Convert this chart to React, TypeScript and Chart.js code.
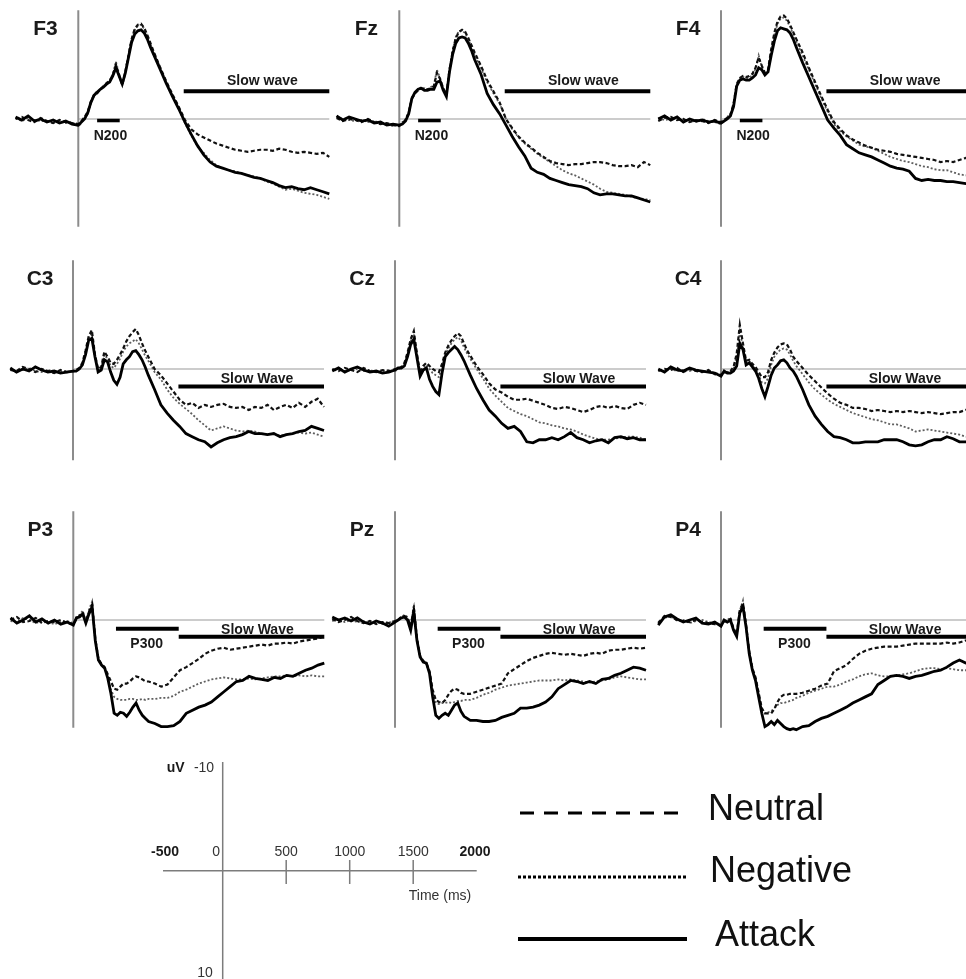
import React, { useEffect, useRef } from "react";
import { Chart, registerables } from "chart.js";
Chart.register(...registerables);

// ---------------- DATA ----------------
const TIME_MS = [
  -500, -450, -400, -350, -300, -250, -200, -150, -100, -50, 0,
  25, 50, 75, 100, 125, 150, 175, 200, 225, 250, 275, 300, 325, 350, 375, 400, 425, 450, 475, 500, 525, 550, 575, 600,
  650, 700, 750, 800, 850, 900, 950, 1000, 1050, 1100, 1150, 1200, 1250, 1300, 1350, 1400, 1450, 1500, 1550, 1600, 1650, 1700, 1750, 1800, 1850, 1900, 1950, 2000,
];

// amplitudes in µV (negative plotted upward)
const F3_NEUTRAL = [
  0.0, -0.2, 0.1, 0.3, -0.1, 0.2, 0.4, 0.1, 0.3, 0.4, 0.5,
  0.2, -0.2, -0.7, -1.7, -2.3, -2.5, -2.9, -3.2, -3.5, -3.7, -4.3, -5.3, -4.3, -3.3, -4.6, -6.2, -7.8, -8.8, -9.2, -9.3, -8.9, -8.2, -7.4, -6.6,
  -5.1, -3.7, -2.4, -1.2, 0.1, 1.0, 1.5, 1.8, 2.1, 2.4, 2.6, 2.8, 3.0, 3.1, 3.2, 3.1, 3.0, 3.0, 3.1, 2.9, 3.0, 3.2, 3.3, 3.2, 3.3, 3.4, 3.3, 3.7,
];
const F3_NEGATIVE = [
  -0.1, 0.2, -0.1, 0.1, 0.2, 0.2, 0.3, 0.2, 0.4, 0.3, 0.7,
  0.4, -0.1, -0.5, -1.5, -2.4, -2.7, -2.8, -3.2, -3.5, -3.8, -4.4, -5.6, -4.4, -3.5, -4.7, -6.3, -7.8, -8.7, -9.1, -9.2, -8.8, -8.1, -7.3, -6.5,
  -5.1, -3.6, -2.3, -1.0, 0.4, 1.6, 2.7, 3.3, 4.0, 4.5, 4.8, 5.0, 5.1, 5.3, 5.5, 5.6, 5.8, 6.1, 6.3, 6.6, 6.9, 6.8, 7.0, 7.2, 7.3, 7.4, 7.6, 7.8,
];
const F3_ATTACK = [
  -0.2, 0.1, -0.3, 0.2, 0.0, 0.3, 0.1, 0.4, 0.2, 0.5, 0.6,
  0.3, 0.0, -0.6, -1.6, -2.3, -2.6, -2.9, -3.1, -3.4, -3.6, -4.2, -5.0, -4.2, -3.4, -4.5, -6.0, -7.5, -8.3, -8.6, -8.7, -8.4, -7.8, -7.0, -6.3,
  -4.9, -3.5, -2.2, -1.0, 0.3, 1.5, 2.6, 3.5, 4.2, 4.6, 4.8, 5.0, 5.2, 5.3, 5.5, 5.7, 5.8, 6.0, 6.2, 6.5, 6.7, 6.6, 6.8, 6.9, 6.7, 6.9, 7.1, 7.3,
];

const FZ_NEUTRAL = [
  -0.1, 0.2, 0.0, 0.1, 0.3, 0.0, 0.3, 0.5, 0.4, 0.6, 0.7,
  0.4, 0.1, -0.6, -2.0, -2.5, -2.8, -3.0, -2.9, -2.9, -3.0, -3.2, -4.5, -3.9, -3.0, -2.4, -4.8, -6.6, -7.9, -8.5, -8.7, -8.5, -7.9, -7.2, -6.5,
  -5.2, -3.8, -2.7, -1.6, 0.0, 0.9, 1.7, 2.3, 2.8, 3.3, 3.7, 4.1, 4.3, 4.4, 4.5, 4.4, 4.4, 4.3, 4.2, 4.2, 4.3, 4.5, 4.6, 4.6, 4.5, 4.7, 4.2, 4.5,
];
const FZ_NEGATIVE = [
  -0.2, 0.0, 0.1, 0.2, 0.1, 0.3, 0.2, 0.4, 0.5, 0.7, 0.6,
  0.3, 0.0, -0.7, -2.1, -2.6, -2.9, -3.1, -3.0, -2.9, -3.1, -3.3, -4.8, -4.0, -2.9, -2.4, -4.9, -6.7, -8.0, -8.6, -8.6, -8.4, -7.8, -7.0, -6.3,
  -5.0, -3.6, -2.5, -1.5, 0.0, 1.0, 1.8, 2.4, 2.9, 3.4, 3.8, 4.2, 4.6, 5.0, 5.3, 5.5, 5.8, 6.1, 6.4, 6.8, 7.1, 7.2, 7.3, 7.4, 7.6, 7.7, 7.8, 7.9,
];
const FZ_ATTACK = [
  -0.3, 0.1, -0.2, 0.0, 0.2, 0.1, 0.4, 0.3, 0.6, 0.5, 0.6,
  0.5, 0.2, -0.5, -2.0, -2.6, -2.9, -3.0, -2.8, -2.8, -2.9, -2.9, -3.6, -3.7, -2.8, -2.2, -4.6, -6.3, -7.4, -7.9, -8.0, -7.9, -7.4, -6.7, -5.8,
  -4.4, -2.5, -1.4, -0.5, 0.6, 1.7, 2.7, 3.6, 4.8, 5.2, 5.4, 5.8, 6.0, 6.2, 6.4, 6.5, 6.6, 6.8, 7.2, 7.4, 7.3, 7.3, 7.4, 7.5, 7.5, 7.7, 7.9, 8.1,
];

const F4_NEUTRAL = [
  0.2, -0.1, -0.2, 0.1, 0.0, 0.3, 0.1, 0.2, 0.4, 0.1, 0.3,
  0.1, -0.1, -0.4, -1.5, -3.4, -4.0, -4.2, -4.1, -4.2, -4.4, -5.0, -6.0, -5.2, -4.5, -4.8, -6.8, -8.4, -9.5, -10.0, -10.1, -9.8, -9.2, -8.5, -7.8,
  -6.5, -5.0, -3.6, -2.2, -0.9, 0.3, 1.0, 1.6, 2.0, 2.3, 2.6, 2.8, 3.0, 3.1, 3.2, 3.4, 3.5, 3.6, 3.7, 3.8, 3.9, 4.0, 4.2, 4.1, 4.2, 4.0, 3.8, 4.0,
];
const F4_NEGATIVE = [
  -0.1, 0.1, 0.0, -0.2, 0.2, 0.1, 0.3, 0.0, 0.2, 0.3, 0.5,
  0.1, -0.2, -0.5, -1.4, -3.3, -3.9, -4.1, -4.0, -4.0, -4.3, -4.9, -6.2, -5.1, -4.4, -4.7, -6.6, -8.2, -9.3, -9.8, -9.9, -9.6, -9.0, -8.3, -7.6,
  -6.2, -4.8, -3.4, -2.0, -0.7, 0.5, 1.2, 1.7, 2.1, 2.5, 2.7, 2.8, 3.1, 3.4, 3.7, 3.9, 4.1, 4.2, 4.4, 4.6, 4.7, 4.9, 5.0, 5.0, 5.2, 5.4, 5.5, 5.4,
];
const F4_ATTACK = [
  0.0, -0.3, 0.1, -0.2, 0.3, 0.0, 0.2, 0.1, 0.3, 0.2, 0.4,
  0.2, 0.0, -0.3, -1.2, -3.2, -3.8, -3.9, -3.8, -3.8, -4.0, -4.3, -5.0, -4.8, -4.3, -4.6, -6.2, -7.6, -8.6, -8.9, -8.8, -8.7, -8.4, -7.8, -7.0,
  -5.5, -4.1, -2.7, -1.3, 0.1, 0.9, 1.6, 2.5, 2.9, 3.3, 3.5, 3.7, 4.0, 4.3, 4.6, 4.8, 4.9, 5.1, 5.8, 6.0, 5.9, 6.0, 6.0, 6.1, 6.1, 6.2, 6.3, 6.2,
];

const C3_NEUTRAL = [
  0.1, 0.2, -0.2, 0.0, 0.3, 0.0, 0.2, 0.4, 0.1, 0.3, 0.2,
  0.1, -0.1, -0.6, -1.8, -3.2, -3.8, -1.4, 0.0, -0.2, -1.7, -1.2, -0.6, -0.5, -0.9, -1.4, -2.0, -2.7, -3.2, -3.6, -3.9, -3.3, -2.5, -1.8, -1.2,
  0.0, 0.6, 1.4, 2.2, 3.0, 3.5, 3.3, 3.8, 3.5, 3.7, 3.5, 3.4, 3.7, 3.8, 3.7, 4.0, 3.7, 3.8, 3.5, 4.0, 3.7, 3.5, 3.8, 3.3, 3.7, 3.2, 2.9, 3.7,
];
const C3_NEGATIVE = [
  0.0, 0.2, 0.1, -0.1, 0.2, 0.3, 0.1, 0.2, 0.3, 0.2, 0.3,
  0.2, 0.0, -0.5, -1.6, -3.0, -3.5, -1.3, 0.1, 0.0, -1.4, -1.0, -0.3, -0.1, -0.5, -1.0, -1.7, -2.2, -2.5, -2.7, -2.9, -2.5, -1.9, -1.3, -0.8,
  0.3, 1.0, 2.0, 2.8, 3.4, 3.9, 4.4, 5.0, 5.5, 6.0, 5.8, 5.6, 5.8, 6.0, 6.1, 6.0, 6.1, 6.3, 6.4, 6.3, 6.5, 6.4, 6.3, 6.2, 6.3, 6.2, 6.4, 6.6,
];
const C3_ATTACK = [
  -0.1, 0.3, 0.0, 0.2, -0.2, 0.1, 0.3, 0.2, 0.4, 0.3, 0.2,
  0.2, 0.0, -0.4, -1.4, -2.8, -3.0, -1.2, 0.3, 0.1, -0.9, -0.7, 0.3, 1.1, 1.5, 0.8, -0.5, -0.9, -1.2, -1.7, -1.8, -1.4, -0.9, -0.2, 0.6,
  2.0, 3.5, 4.3, 5.0, 5.6, 6.3, 6.6, 6.9, 7.1, 7.6, 7.2, 6.9, 6.7, 6.6, 6.4, 6.1, 6.3, 6.3, 6.4, 6.3, 6.6, 6.4, 6.3, 6.1, 6.0, 5.6, 5.8, 6.0,
];

const CZ_NEUTRAL = [
  0.0, 0.2, -0.1, 0.1, 0.3, -0.1, 0.2, 0.3, 0.1, 0.2, 0.0,
  0.0, -0.2, -0.6, -1.6, -2.9, -3.7, -1.5, 0.4, -0.3, -0.6, -0.3, 0.0, 0.2, 0.3, -0.5, -1.6, -2.3, -2.8, -3.2, -3.5, -3.2, -2.5, -1.8, -1.3,
  -0.3, 0.5, 1.4, 2.0, 2.3, 2.7, 3.0, 3.0, 2.9, 3.1, 3.3, 3.5, 3.8, 3.9, 3.7, 3.8, 4.0, 4.2, 4.0, 3.7, 3.6, 3.8, 3.6, 3.8, 3.9, 3.5, 3.3, 3.5,
];
const CZ_NEGATIVE = [
  0.1, 0.0, 0.2, 0.1, 0.0, 0.2, 0.1, 0.3, 0.2, 0.1, 0.2,
  0.0, -0.1, -0.5, -1.5, -2.7, -3.4, -1.3, 0.5, -0.1, -0.4, 0.0, 0.4, 0.6, 0.8, -0.2, -1.4, -2.0, -2.5, -2.9, -3.1, -2.8, -2.1, -1.5, -1.0,
  0.0, 0.9, 1.9, 2.6, 3.2, 3.8, 4.1, 4.4, 4.6, 4.9, 5.2, 5.3, 5.5, 5.6, 5.8, 5.9, 6.1, 6.4, 6.6, 6.8, 6.9, 6.9, 6.8, 6.7, 6.6, 6.6, 6.7, 6.9,
];
const CZ_ATTACK = [
  0.2, -0.1, 0.3, 0.0, -0.2, 0.1, 0.3, 0.2, 0.4, 0.3, 0.1,
  -0.1, -0.1, -0.3, -1.2, -2.4, -2.9, -1.1, 0.7, 0.1, -0.1, 1.0, 1.7, 2.2, 2.5, 0.4, -1.2, -1.6, -1.9, -2.2, -1.9, -1.4, -0.8, -0.1, 0.6,
  1.9, 3.0, 4.0, 4.6, 5.3, 5.8, 5.6, 6.1, 7.1, 7.2, 6.9, 6.9, 6.7, 6.9, 6.6, 6.2, 6.7, 6.9, 7.2, 7.0, 6.9, 7.2, 6.7, 6.6, 6.8, 6.7, 6.9, 6.9,
];

const C4_NEUTRAL = [
  0.2, 0.0, 0.1, -0.1, 0.3, 0.0, 0.2, 0.3, 0.1, 0.5, 0.6,
  0.3, 0.3, 0.2, -0.2, -1.5, -4.3, -2.5, -0.8, -0.9, -0.5, -0.2, 0.3, 0.8, 0.8, 0.3, -0.9, -1.6, -2.1, -2.4, -2.5, -2.4, -1.9, -1.2, -0.8,
  -0.1, 0.6, 1.2, 1.8, 2.4, 2.9, 3.3, 3.5, 3.8, 3.8, 3.9, 4.1, 4.0, 4.1, 4.2, 4.1, 4.2, 4.1, 4.2, 4.3, 4.2, 4.3, 4.4, 4.3, 4.2, 4.2, 4.0, 4.1,
];
const C4_NEGATIVE = [
  0.1, 0.2, 0.0, 0.2, 0.1, 0.2, 0.0, 0.3, 0.2, 0.4, 0.5,
  0.3, 0.3, 0.3, 0.0, -1.2, -3.6, -2.2, -0.6, -0.8, -0.4, 0.0, 0.6, 1.3, 1.4, 0.9, -0.4, -1.2, -1.6, -1.9, -2.0, -1.9, -1.4, -0.8, -0.3,
  0.5, 1.3, 2.0, 2.5, 3.0, 3.4, 3.7, 4.0, 4.3, 4.5, 4.7, 4.9, 5.0, 5.2, 5.4, 5.4, 5.6, 5.8, 6.1, 6.0, 5.9, 6.0, 6.1, 6.2, 6.3, 6.4, 6.6, 6.7,
];
const C4_ATTACK = [
  0.0, 0.3, -0.2, 0.1, 0.2, -0.1, 0.1, 0.2, 0.3, 0.4, 0.7,
  0.2, 0.4, 0.4, 0.2, -0.3, -2.5, -1.9, -0.4, -0.6, -0.2, 0.2, 0.9, 1.9, 2.7, 1.7, 0.6, -0.1, -0.4, -0.8, -0.9, -0.6, -0.1, 0.2, 0.7,
  2.0, 3.5, 4.6, 5.4, 6.1, 6.6, 6.7, 6.9, 7.2, 7.2, 7.1, 7.1, 7.1, 6.9, 6.9, 6.9, 7.1, 7.4, 7.5, 7.4, 7.1, 6.9, 6.9, 6.6, 6.8, 7.1, 7.1, 7.0,
];

const P3_NEUTRAL = [
  0.0, -0.3, 0.2, 0.1, -0.2, 0.3, 0.1, 0.2, 0.0, 0.3, 0.4,
  -0.1, -0.4, -0.7, 0.2, -0.8, -1.5, 1.8, 3.8, 4.3, 4.6, 5.3, 6.0, 6.7, 6.8, 6.5, 6.2, 6.2, 6.0, 5.7, 5.5, 5.6, 5.8, 6.0, 6.0,
  6.2, 6.5, 6.3, 5.6, 4.9, 4.6, 4.2, 3.8, 3.3, 3.0, 2.8, 2.7, 2.9, 2.8, 2.7, 2.6, 2.5, 2.4, 2.5, 2.3, 2.3, 2.2, 2.3, 2.1, 2.0, 1.9, 1.8, 1.6,
];
const P3_NEGATIVE = [
  0.1, 0.2, -0.2, 0.0, 0.3, 0.1, 0.2, 0.4, 0.2, 0.1, 0.3,
  -0.3, -0.5, -0.9, 0.1, -1.0, -1.8, 1.9, 3.9, 4.4, 4.7, 5.5, 6.8, 7.5, 7.7, 7.8, 7.8, 7.8, 7.7, 7.7, 7.8, 7.8, 7.7, 7.8, 7.7,
  7.7, 7.6, 7.6, 7.4, 7.0, 6.8, 6.5, 6.2, 6.0, 5.8, 5.7, 5.6, 5.7, 5.8, 5.8, 5.7, 5.8, 5.7, 5.6, 5.5, 5.5, 5.4, 5.5, 5.4, 5.5, 5.4, 5.5, 5.5,
];
const P3_ATTACK = [
  -0.2, 0.3, 0.0, -0.4, 0.2, -0.1, 0.3, 0.0, 0.4, 0.2, 0.5,
  -0.2, -0.3, -0.6, 0.3, -0.6, -1.3, 2.0, 3.9, 4.4, 4.7, 5.7, 7.2, 9.1, 9.3, 9.0, 9.1, 9.4, 9.0, 8.5, 8.1, 8.8, 9.3, 9.6, 9.9,
  10.1, 10.4, 10.4, 10.3, 9.9, 9.1, 8.8, 8.5, 8.3, 8.0, 7.5, 7.0, 6.5, 6.0, 5.9, 5.5, 5.7, 5.8, 5.9, 5.6, 5.7, 5.4, 5.5, 5.2, 4.9, 4.7, 4.4, 4.2,
];

const PZ_NEUTRAL = [
  -0.1, 0.2, 0.0, -0.3, 0.1, 0.3, 0.1, 0.4, 0.2, 0.3, 0.1,
  0.0, -0.3, -0.4, -0.2, 0.6, -1.2, 1.8, 3.5, 4.0, 4.2, 5.0, 6.8, 7.8, 8.0, 8.1, 7.8, 7.3, 6.9, 6.7, 6.8, 7.1, 7.2, 7.2, 7.2,
  7.0, 6.8, 6.6, 6.4, 6.2, 5.2, 4.8, 4.4, 4.0, 3.7, 3.5, 3.3, 3.2, 3.3, 3.4, 3.3, 3.4, 3.5, 3.3, 3.2, 3.3, 3.0, 2.9, 2.9, 2.8, 2.7, 2.8, 2.7,
];
const PZ_NEGATIVE = [
  0.1, -0.1, 0.2, 0.0, 0.2, 0.1, 0.3, 0.2, 0.4, 0.2, 0.3,
  -0.1, -0.3, -0.5, -0.3, 0.7, -1.5, 1.9, 3.6, 4.0, 4.3, 5.1, 7.0, 8.1, 8.2, 8.1, 8.1, 8.0, 8.1, 8.0, 7.9, 7.9, 7.8, 7.8, 7.8,
  7.6, 7.3, 7.1, 6.8, 6.6, 6.4, 6.3, 6.2, 6.1, 6.0, 5.9, 5.9, 5.9, 5.8, 5.9, 5.8, 5.9, 6.0, 6.1, 6.0, 5.9, 5.8, 5.6, 5.5, 5.6, 5.7, 5.8, 5.8,
];
const PZ_ATTACK = [
  -0.3, 0.0, -0.2, 0.1, -0.2, 0.2, 0.4, 0.1, 0.3, 0.6, 0.2,
  0.0, -0.2, -0.3, 0.0, 1.0, -0.8, 2.0, 3.6, 4.1, 4.2, 5.2, 7.5, 9.3, 9.6, 9.3, 9.1, 9.3, 8.8, 8.3, 8.1, 8.9, 9.4, 9.6, 9.8,
  9.8, 9.9, 9.9, 9.8, 9.5, 9.3, 9.1, 8.6, 8.6, 8.5, 8.3, 8.0, 7.5, 6.7, 6.3, 5.9, 6.0, 6.2, 6.0, 6.2, 5.8, 5.7, 5.4, 5.2, 4.9, 4.6, 4.7, 4.9,
];

const P4_NEUTRAL = [
  0.3, -0.4, -0.3, 0.0, 0.1, 0.2, 0.0, 0.2, 0.3, 0.4, 0.5,
  0.1, 0.1, -0.1, 0.8, 1.4, -1.0, -1.6, 0.5, 3.1, 4.7, 5.6, 7.1, 8.6, 9.1, 9.1, 9.1, 8.7, 8.0, 7.5, 7.3, 7.3, 7.2, 7.2, 7.2,
  7.1, 6.9, 6.7, 6.4, 6.2, 5.0, 4.7, 4.4, 3.8, 3.3, 3.0, 2.8, 2.7, 2.6, 2.6, 2.6, 2.5, 2.4, 2.3, 2.3, 2.3, 2.3, 2.3, 2.2, 2.3, 2.2, 2.0, 2.0,
];
const P4_NEGATIVE = [
  0.2, -0.2, -0.4, 0.1, 0.0, 0.3, 0.1, 0.0, 0.2, 0.3, 0.4,
  0.2, 0.0, -0.2, 0.9, 1.5, -0.9, -1.9, 0.6, 3.2, 4.8, 5.7, 7.3, 8.8, 9.1, 9.0, 8.9, 8.6, 8.3, 8.1, 8.1, 8.0, 7.9, 7.8, 7.6,
  7.4, 7.1, 6.9, 6.7, 6.5, 6.5, 6.3, 6.0, 5.8, 5.5, 5.3, 5.2, 5.4, 5.5, 5.5, 5.4, 5.3, 5.2, 5.0, 4.8, 4.7, 4.7, 4.8, 4.7, 4.8, 4.9, 4.9, 4.9,
];
const P4_ATTACK = [
  0.5, -0.3, -0.5, -0.1, 0.2, 0.0, -0.2, 0.3, 0.4, 0.2, 0.6,
  0.0, 0.2, 0.0, 1.0, 1.6, -0.7, -1.3, 0.7, 3.3, 4.9, 5.9, 7.5, 9.1, 10.4, 10.2, 9.9, 10.2, 9.8, 10.1, 10.4, 10.6, 10.7, 10.6, 10.7,
  10.4, 10.3, 9.9, 9.6, 9.4, 9.1, 8.8, 8.5, 8.1, 7.8, 7.5, 7.2, 6.3, 5.9, 5.5, 5.4, 5.5, 5.7, 5.5, 5.4, 5.2, 5.0, 4.9, 4.6, 4.2, 3.9, 4.2, 4.1,
];

const PANEL_NAMES = ["F3", "Fz", "F4", "C3", "Cz", "C4", "P3", "Pz", "P4"];
const CONDITIONS = ["Neutral", "Negative", "Attack"];
const SLOW_WAVE_MS = [840, 2000];
const N200_MS = [150, 330];
const P300_MS = [340, 840];
const SCALE_TICKS_MS = [500, 1000, 1500];
const SCALE_UV = [-10, 10];

// ---------------- LAYOUT ----------------
const FONT = '"Liberation Sans", Arial, Helvetica, sans-serif';
const PPM = 0.1255; // px per ms in panels
const PPU = 10.25; // px per µV
const ROW_BASE_Y = [119, 369, 620];
const ROW_X0 = [
  [78.3, 399.3, 721],
  [73, 395, 721],
  [73.3, 395, 721],
];
const AXIS_TOP_UV = -10.6;
const ROW_AXIS_BOTTOM_UV = [10.5, 8.9, 10.5];

type TextItem = {
  text: string; x: number; y: number; font: string; color?: string;
  align?: CanvasTextAlign; baseline?: CanvasTextBaseline;
};
type Box = {
  left: number; top: number; width: number; height: number;
  xMin: number; xMax: number; yMin: number; yMax: number;
};

function boxFromPixels(x0: number, base: number, ppm: number, ppu: number,
  left: number, top: number, right: number, bottom: number): Box {
  return {
    left, top, width: right - left, height: bottom - top,
    xMin: (left - x0) / ppm, xMax: (right - x0) / ppm,
    yMin: (top - base) / ppu, yMax: (bottom - base) / ppu,
  };
}

function textPlugin(items: TextItem[]) {
  return {
    id: "textItems",
    afterDatasetsDraw(chart: any) {
      const { ctx } = chart;
      const xs = chart.scales.x, ys = chart.scales.y;
      ctx.save();
      for (const it of items) {
        ctx.font = it.font;
        ctx.fillStyle = it.color ?? "#1a1a1a";
        ctx.textAlign = it.align ?? "center";
        ctx.textBaseline = it.baseline ?? "middle";
        ctx.fillText(it.text, xs.getPixelForValue(it.x), ys.getPixelForValue(it.y));
      }
      ctx.restore();
    },
  };
}

function series(values: number[]) {
  return TIME_MS.map((t, i) => ({ x: t, y: values[i] }));
}

function segment(x1: number, x2: number, y: number) {
  return [{ x: x1, y }, { x: x2, y }];
}

function baseOptions(box: Box) {
  return {
    animation: false as const,
    responsive: false,
    events: [] as any[],
    layout: { padding: 0 },
    plugins: { legend: { display: false }, tooltip: { enabled: false } },
    elements: { point: { radius: 0 }, line: { tension: 0, borderCapStyle: "butt" as const } },
    scales: {
      x: { type: "linear" as const, min: box.xMin, max: box.xMax, display: false },
      y: { type: "linear" as const, min: box.yMin, max: box.yMax, reverse: true, display: false },
    },
  };
}

function ChartBox({ box, build }: { box: Box; build: (box: Box) => any }) {
  const ref = useRef<HTMLCanvasElement | null>(null);
  useEffect(() => {
    if (!ref.current) return;
    const chart = new Chart(ref.current, build(box));
    return () => chart.destroy();
  }, []);
  return (
    <canvas
      ref={ref}
      width={box.width}
      height={box.height}
      style={{ position: "absolute", left: box.left, top: box.top, width: box.width, height: box.height }}
    />
  );
}

const PANEL_SERIES = [
  [F3_NEUTRAL, F3_NEGATIVE, F3_ATTACK],
  [FZ_NEUTRAL, FZ_NEGATIVE, FZ_ATTACK],
  [F4_NEUTRAL, F4_NEGATIVE, F4_ATTACK],
  [C3_NEUTRAL, C3_NEGATIVE, C3_ATTACK],
  [CZ_NEUTRAL, CZ_NEGATIVE, CZ_ATTACK],
  [C4_NEUTRAL, C4_NEGATIVE, C4_ATTACK],
  [P3_NEUTRAL, P3_NEGATIVE, P3_ATTACK],
  [PZ_NEUTRAL, PZ_NEGATIVE, PZ_ATTACK],
  [P4_NEUTRAL, P4_NEGATIVE, P4_ATTACK],
];

function panelBox(row: number, col: number): Box {
  const x0 = ROW_X0[row][col];
  const base = ROW_BASE_Y[row];
  const left = Math.round(x0 - 520 * PPM);
  const right = Math.round(x0 + 2010 * PPM);
  const top = Math.round(base - 11 * PPU);
  const bottom = Math.round(base + 11 * PPU);
  return boxFromPixels(x0, base, PPM, PPU, left, top, right, bottom);
}

function buildPanel(idx: number) {
  const row = Math.floor(idx / 3);
  return (box: Box) => {
    const [neu, neg, att] = PANEL_SERIES[idx];
    const bold14 = `bold 14px ${FONT}`;
    const texts: TextItem[] = [
      { text: PANEL_NAMES[idx], x: -262, y: -8.8, font: `bold 21px ${FONT}` },
    ];
    const bars: any[] = [];
    const barStyle = { borderColor: "#000", borderWidth: 4, order: 0, fill: false };
    if (row === 0) {
      bars.push({ ...barStyle, data: segment(SLOW_WAVE_MS[0], SLOW_WAVE_MS[1], -2.7) });
      bars.push({ ...barStyle, borderWidth: 3.5, data: segment(N200_MS[0], N200_MS[1], 0.15) });
      texts.push({ text: "Slow wave", x: 1467, y: -3.65, font: bold14 });
      texts.push({ text: "N200", x: 256, y: 1.65, font: bold14 });
    } else if (row === 1) {
      bars.push({ ...barStyle, data: segment(SLOW_WAVE_MS[0], SLOW_WAVE_MS[1], 1.7) });
      texts.push({ text: "Slow Wave", x: 1466, y: 0.95, font: bold14 });
    } else {
      bars.push({ ...barStyle, data: segment(SLOW_WAVE_MS[0], SLOW_WAVE_MS[1], 1.63) });
      bars.push({ ...barStyle, data: segment(P300_MS[0], P300_MS[1], 0.85) });
      texts.push({ text: "Slow Wave", x: 1467, y: 0.95, font: bold14 });
      texts.push({ text: "P300", x: 585, y: 2.4, font: bold14 });
    }
    return {
      type: "line",
      data: {
        datasets: [
          ...bars,
          { label: CONDITIONS[2], data: series(att), borderColor: "#000", borderWidth: 2.8, order: 1, fill: false },
          { label: CONDITIONS[0], data: series(neu), borderColor: "#111", borderWidth: 2.2, borderDash: [4, 2.5], order: 2, fill: false },
          { label: CONDITIONS[1], data: series(neg), borderColor: "#5e5e5e", borderWidth: 1.8, borderDash: [2, 2], order: 3, fill: false },
          { data: [{ x: 0, y: AXIS_TOP_UV }, { x: 0, y: ROW_AXIS_BOTTOM_UV[row] }], borderColor: "#8c8c8c", borderWidth: 2, order: 4, fill: false },
          { data: segment(0, 2000, 0), borderColor: "#9a9a9a", borderWidth: 1.2, order: 5, fill: false },
        ],
      },
      options: baseOptions(box),
      plugins: [textPlugin(texts)],
    };
  };
}

// Scale bar + legend chart
const SB_X0 = 222.7;
const SB_BASE = 870.7;
const SB_PPM = 0.127;
const SB_BOX = boxFromPixels(SB_X0, SB_BASE, SB_PPM, PPU, 100, 740, 966, 979);

function legendPlugin(box: Box) {
  const items = [
    { label: CONDITIONS[0], lineY: 813, x1: 520, x2: 683, width: 3, dash: [14, 10], textX: 708, textY: 810 },
    { label: CONDITIONS[1], lineY: 877, x1: 518, x2: 688, width: 3, dash: [3, 2], textX: 710, textY: 872 },
    { label: CONDITIONS[2], lineY: 939, x1: 518, x2: 687, width: 4, dash: [] as number[], textX: 715, textY: 936 },
  ];
  return {
    id: "legendLines",
    afterDatasetsDraw(chart: any) {
      const { ctx } = chart;
      ctx.save();
      for (const it of items) {
        ctx.beginPath();
        ctx.setLineDash(it.dash);
        ctx.lineWidth = it.width;
        ctx.strokeStyle = "#000";
        ctx.lineCap = "butt";
        ctx.moveTo(it.x1 - box.left, it.lineY - box.top);
        ctx.lineTo(it.x2 - box.left, it.lineY - box.top);
        ctx.stroke();
        ctx.setLineDash([]);
        ctx.font = `36px ${FONT}`;
        ctx.fillStyle = "#111";
        ctx.textAlign = "left";
        ctx.textBaseline = "middle";
        ctx.fillText(it.label, it.textX - box.left, it.textY - box.top);
      }
      ctx.restore();
    },
  };
}

function buildScaleBar(box: Box) {
  const reg = `14px ${FONT}`;
  const bold = `bold 14px ${FONT}`;
  const texts: TextItem[] = [
    { text: "uV", x: -370, y: SCALE_UV[0], font: bold },
    { text: String(SCALE_UV[0]), x: -147, y: SCALE_UV[0], font: reg, color: "#333" },
    { text: String(SCALE_UV[1]), x: -139, y: SCALE_UV[1], font: reg, color: "#333" },
    { text: "-500", x: -454, y: -1.85, font: bold },
    { text: "0", x: -52, y: -1.85, font: reg, color: "#333" },
    ...SCALE_TICKS_MS.map((t) => ({ text: String(t), x: t, y: -1.85, font: reg, color: "#333" })),
    { text: "2000", x: 1987, y: -1.85, font: bold },
    { text: "Time (ms)", x: 1711, y: 2.45, font: reg, color: "#333" },
  ];
  const gray = "#7c7c7c";
  return {
    type: "line",
    data: {
      datasets: [
        { data: segment(-470, 2000, 0), borderColor: gray, borderWidth: 1.5, fill: false },
        { data: [{ x: 0, y: -10.6 }, { x: 0, y: 10.6 }], borderColor: gray, borderWidth: 1.5, fill: false },
        ...SCALE_TICKS_MS.map((t) => ({
          data: [{ x: t, y: -1.05 }, { x: t, y: 1.3 }], borderColor: gray, borderWidth: 1.5, fill: false,
        })),
      ],
    },
    options: baseOptions(box),
    plugins: [textPlugin(texts), legendPlugin(box)],
  };
}

export default function App() {
  return (
    <div style={{ position: "absolute", left: 0, top: 0, width: 966, height: 979, overflow: "hidden", background: "#fff" }}>
      {PANEL_NAMES.map((name, idx) => (
        <ChartBox key={name} box={panelBox(Math.floor(idx / 3), idx % 3)} build={buildPanel(idx)} />
      ))}
      <ChartBox box={SB_BOX} build={buildScaleBar} />
    </div>
  );
}
